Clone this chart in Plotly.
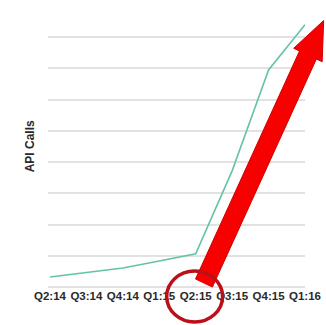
import plotly.graph_objects as go
import math

quarters = ["Q2:14", "Q3:14", "Q4:14", "Q1:15", "Q2:15", "Q3:15", "Q4:15", "Q1:16"]
api_calls = [0.32, 0.47, 0.61, 0.83, 1.06, 3.72, 6.95, 8.4]
x_idx = list(range(len(quarters)))

W, H = 326, 325
L, R, T, B = 48, 16, 5, 38
PW, PH = W - L - R, H - T - B


def px(x):
    return (x - L) / PW


def py(y):
    return (H - B - y) / PH


fig = go.Figure()
fig.add_trace(go.Scatter(
    x=x_idx, y=api_calls, mode="lines",
    line=dict(color="rgb(100,195,165)", width=1.6),
    hoverinfo="skip", showlegend=False,
))

# decorative block arrow, pixel space -> paper coords
bx, by = 207, 283
hx, hy = 313, 55
dx, dy = hx - bx, hy - by
ln = math.hypot(dx, dy)
ux, uy = dx / ln, dy / ln
nx, ny = -uy, ux
w, hw, hl = 9.5, 16, 38
tx, ty = hx + ux * hl, hy + uy * hl
pts = [
    (bx + nx * w, by + ny * w),
    (hx + nx * w, hy + ny * w),
    (hx + nx * hw, hy + ny * hw),
    (tx, ty),
    (hx - nx * hw, hy - ny * hw),
    (hx - nx * w, hy - ny * w),
    (bx - nx * w, by - ny * w),
]
path = "M " + " L ".join(f"{px(a):.4f},{py(b):.4f}" for a, b in pts) + " Z"

shapes = [
    dict(type="path", xref="paper", yref="paper", path=path,
         fillcolor="#f70000", line=dict(color="#d00000", width=1), layer="above"),
    dict(type="circle", xref="paper", yref="paper",
         x0=px(169), x1=px(226), y0=py(322), y1=py(271),
         line=dict(color="#bb0f1a", width=3.5), fillcolor="rgba(0,0,0,0)", layer="above"),
]

fig.update_layout(
    width=W, height=H,
    margin=dict(l=L, r=R, t=T, b=B),
    paper_bgcolor="white", plot_bgcolor="white",
    font=dict(family="Liberation Sans, Arial, sans-serif", color="#333333"),
    shapes=shapes,
    annotations=[dict(
        text="<b>API Calls</b>", xref="paper", yref="paper",
        x=px(30), y=py(146), xanchor="center", yanchor="middle",
        textangle=-90, showarrow=False, font=dict(size=12, color="#2a2a2a"),
    )],
    xaxis=dict(
        range=[-0.054, 7.0], tickmode="array", tickvals=x_idx, ticktext=quarters,
        showgrid=False, zeroline=False, showline=False, ticks="",
        tickfont=dict(size=11.5, color="#2a2a2a", weight="bold"),
        fixedrange=True,
    ),
    yaxis=dict(
        range=[0, 9.03], tickmode="array", tickvals=list(range(10)),
        showticklabels=False, ticks="",
        showgrid=True, gridcolor="#e2e2e2", gridwidth=1.5,
        zeroline=True, zerolinecolor="#e2e2e2", zerolinewidth=1.5,
        showline=False, fixedrange=True,
    ),
)

fig.write_html("out.html", config={"displayModeBar": False})
